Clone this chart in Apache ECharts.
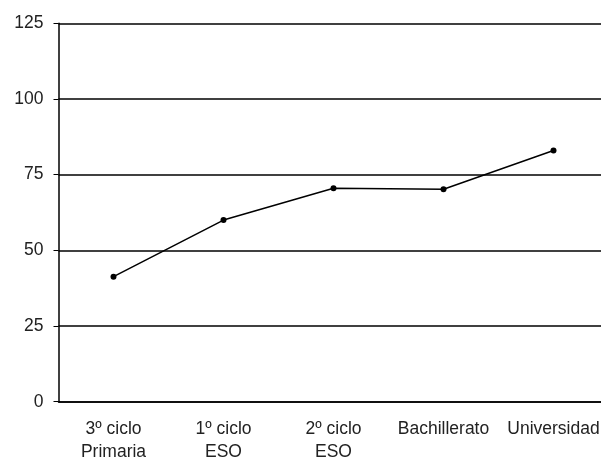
<!DOCTYPE html>
<html>
<head>
<meta charset="utf-8">
<script src="https://cdn.jsdelivr.net/npm/echarts@6/dist/echarts.min.js"></script>
<style>html,body{margin:0;padding:0;background:#fff}#c{width:601px;height:460px}</style>
</head>
<body>
<div id="c"></div>
<script>
var categories = ["3º ciclo\nPrimaria", "1º ciclo\nESO", "2º ciclo\nESO", "Bachillerato", "Universidad"];
var values = [41.3, 60, 70.5, 70.2, 83];
var yTicks = [0, 25, 50, 75, 100, 125];

var chart = echarts.init(document.getElementById('c'), null, {renderer: 'canvas'});
chart.setOption({
  animation: false,
  backgroundColor: '#ffffff',
  grid: {left: 58.5, width: 550, top: 23.3, bottom: 58.3, containLabel: false, outerBoundsMode: 'none'},
  xAxis: {
    type: 'category',
    data: categories,
    boundaryGap: true,
    axisLine: {lineStyle: {color: '#000', width: 1.5}},
    axisTick: {show: false},
    axisLabel: {color: '#222', fontFamily: 'Liberation Sans, Arial, sans-serif', fontSize: 17.5, lineHeight: 23, margin: 16, interval: 0},
    splitLine: {show: false}
  },
  yAxis: {
    type: 'value',
    min: yTicks[0],
    max: yTicks[yTicks.length - 1],
    interval: 25,
    axisLine: {show: true, lineStyle: {color: '#000', width: 1.5}},
    axisTick: {show: true, length: 5, lineStyle: {color: '#000', width: 1}},
    axisLabel: {color: '#222', fontFamily: 'Liberation Sans, Arial, sans-serif', fontSize: 17.5, margin: 15},
    splitLine: {show: true, lineStyle: {color: '#000', width: 1.5}}
  },
  series: [{
    type: 'line',
    data: values,
    symbol: 'circle',
    symbolSize: 6,
    lineStyle: {color: '#000', width: 1.5},
    itemStyle: {color: '#000'}
  }]
});
</script>
</body>
</html>
